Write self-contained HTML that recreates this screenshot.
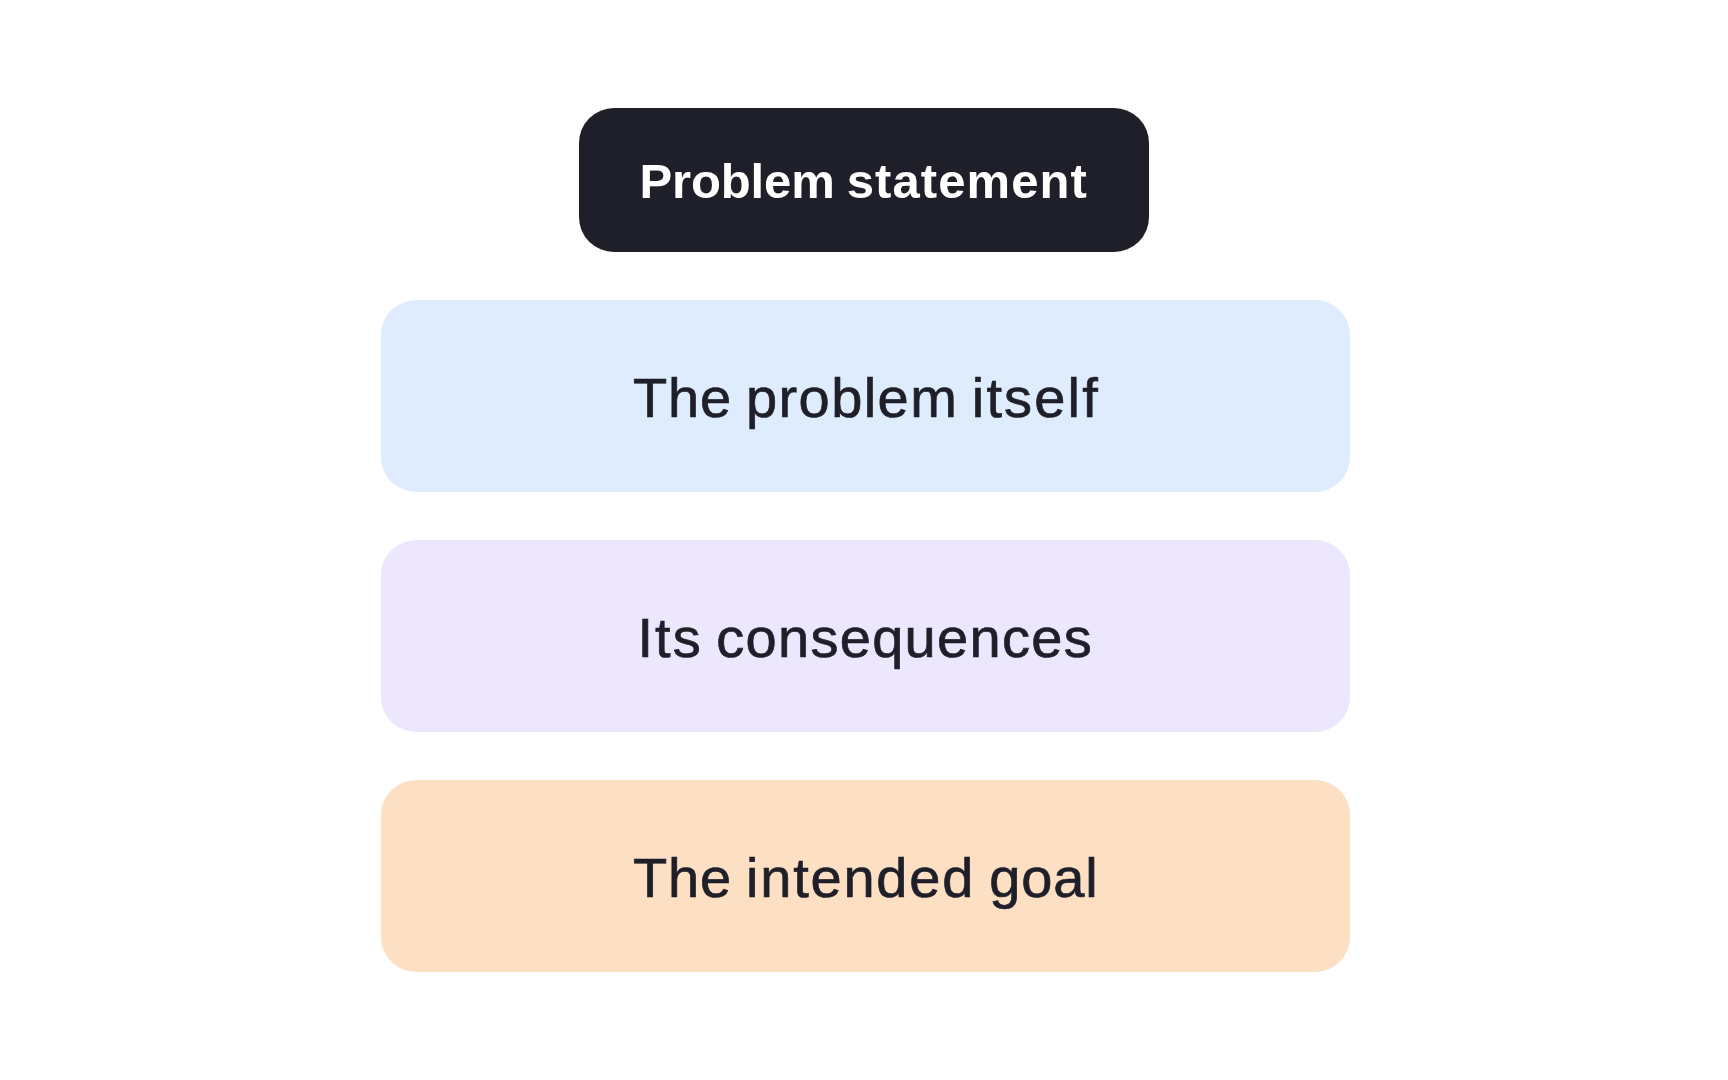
<!DOCTYPE html>
<html lang="en">
<head>
<meta charset="utf-8">
<title>Problem statement</title>
<style>
html,body{margin:0;padding:0}
body{width:1728px;height:1080px;background:#fff;position:relative;overflow:hidden;font-family:"Liberation Sans",sans-serif;color:#1f1f29}
.box{position:absolute;border-radius:35px;white-space:nowrap}
.box span{position:absolute;top:0;line-height:1;white-space:pre}
.head{left:579px;top:108px;width:570px;height:144px;background:#1f1f29;color:#ffffff;font-size:49px;font-weight:700}
.r1{left:381px;top:300px;width:969px;height:192px;background:#dfecfe;color:#1f1f29;font-size:56px;font-weight:400;-webkit-text-stroke:0.7px #1f1f29}
.r2{left:381px;top:540px;width:969px;height:192px;background:#ece7fd;color:#1f1f29;font-size:56px;font-weight:400;-webkit-text-stroke:0.7px #1f1f29}
.r3{left:381px;top:780px;width:969px;height:192px;background:#fddfc3;color:#1f1f29;font-size:56px;font-weight:400;-webkit-text-stroke:0.7px #1f1f29}
</style>
</head>
<body>
  <div class="box head"><span style="left:60.38px;top:48.90px;letter-spacing:-0.097px">Problem</span> <span style="left:267.78px;top:48.90px;letter-spacing:1.070px">statement</span></div>
  <div class="box r1"><span style="left:252.10px;top:69.60px;letter-spacing:0.720px">The</span> <span style="left:364.88px;top:69.60px;letter-spacing:1.443px">problem</span> <span style="left:590.84px;top:69.60px;letter-spacing:2.148px">itself</span></div>
  <div class="box r2"><span style="left:256.44px;top:69.60px;letter-spacing:2.050px">Its</span> <span style="left:335.28px;top:69.60px;letter-spacing:1.293px">consequences</span></div>
  <div class="box r3"><span style="left:252.10px;top:69.60px;letter-spacing:0.720px">The</span> <span style="left:365.00px;top:69.60px;letter-spacing:1.780px">intended</span> <span style="left:608.36px;top:69.60px;letter-spacing:0.860px">goal</span></div>
</body>
</html>
